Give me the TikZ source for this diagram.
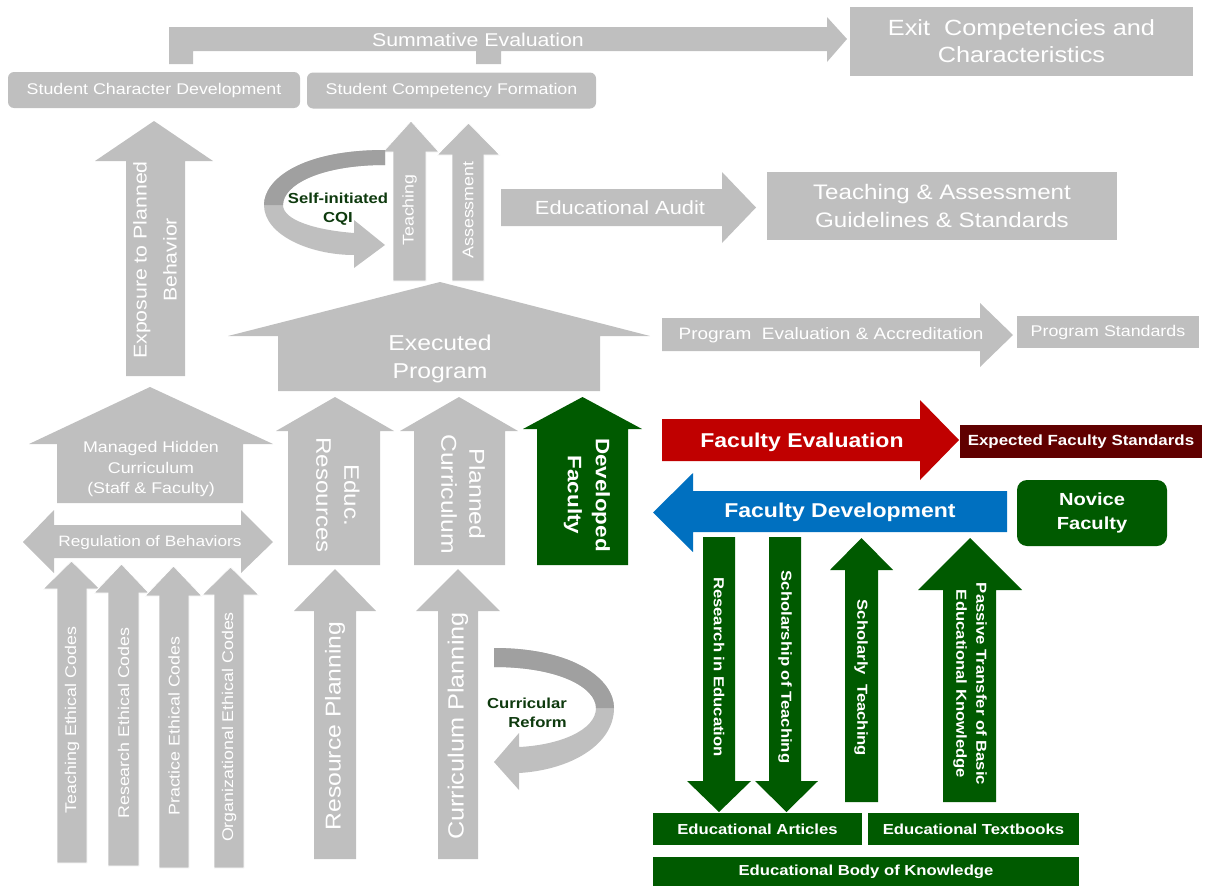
\documentclass[tikz,border=0pt]{standalone}
\usepackage{fontspec}
\setmainfont{Liberation Sans}[FakeStretch=1.15]
\definecolor{pgray}{HTML}{BFBFBF}
\definecolor{pdark}{HTML}{A0A0A0}
\definecolor{fred}{HTML}{C00000}
\definecolor{fmaroon}{HTML}{600000}
\definecolor{fblue}{HTML}{0070C0}
\definecolor{fgreen}{HTML}{005A00}
\definecolor{loopgreen}{HTML}{0E3A0E}
% font size with baseline skip
\newcommand{\fsz}[2]{\fontsize{#1}{#2}\selectfont}
% vertical block arrow: style, shaft left, shaft right, head left, head right, tip y, head base y, tail y
\newcommand{\vArrow}[8]{\filldraw[#1] (#2,#8) -- (#2,#7) -- (#4,#7) -- ({(#4+#5)/2},#6) -- (#5,#7) -- (#3,#7) -- (#3,#8) -- cycle;}
% horizontal block arrow: style, shaft top, shaft bottom, head top, head bottom, tip x, head base x, tail x
\newcommand{\hArrow}[8]{\filldraw[#1] (#8,#2) -- (#7,#2) -- (#7,#4) -- (#6,{(#4+#5)/2}) -- (#7,#5) -- (#7,#3) -- (#8,#3) -- cycle;}
\begin{document}
\begin{tikzpicture}[x=1pt,y=-1pt,
  garrow/.style={fill=pgray,draw=none},
  garrowlined/.style={fill=pgray,draw=white,line width=0.8pt},
  greenarrow/.style={fill=fgreen,draw=none},
  wt/.style={text=white,align=center,inner sep=0pt},
  wtb/.style={wt,font=\bfseries\fsz{14.5}{18}},
  box/.style={fill=pgray,text=white,align=center,inner sep=0pt},
  gbox/.style={fill=fgreen,text=white,align=center,inner sep=0pt,font=\bfseries\fsz{14.5}{18}},
  looptext/.style={text=loopgreen,inner sep=0pt,font=\bfseries\fsz{14.5}{19}}]
\useasboundingbox (0,0) rectangle (1205,886);

% ---------- top: summative evaluation and outcomes ----------
\fill[pgray] (169,64) -- (169,27) -- (827,27) -- (827,17) -- (847,39) -- (827,62) -- (827,51)
  -- (501,51) -- (501,64) -- (476,64) -- (476,51) -- (193,51) -- (193,64) -- cycle;
\node[wt,font=\fsz{18.5}{22}] (summ) at (478,40) {Summative Evaluation};
\node[box,minimum width=343,minimum height=69,font=\fsz{22}{27}] (exit) at (1021.5,41.5)
  {Exit\ \ Competencies and\\Characteristics};
\node[box,rounded corners=6,minimum width=292,minimum height=36,font=\fsz{15.5}{18}] (scd) at (154,90)
  {Student Character Development};
\node[box,rounded corners=6,minimum width=289,minimum height=36,font=\fsz{15.5}{18}] (scf) at (451.5,90.5)
  {Student Competency Formation};

% ---------- exposure to planned behavior ----------
\vArrow{garrow}{126}{185}{95}{213}{121}{161}{376}
\node[wt,rotate=90,font=\fsz{18.5}{30}] (expo) at (155,260) {Exposure to Planned\\Behavior};

% ---------- teaching / assessment and the CQI loop ----------
\vArrow{garrowlined}{393}{426}{383}{439}{121}{152}{281}
\vArrow{garrowlined}{452}{484}{437}{500}{123}{155}{281}
\node[wt,rotate=90,font=\fsz{15.5}{18}] (teach) at (409.5,210) {Teaching};
\node[wt,rotate=90,font=\fsz{15.5}{18}] (assess) at (468,210) {Assessment};

\fill[pgray] (385,150) .. controls (300,150) and (264,180) .. (264,205)
  .. controls (264,235) and (310,255) .. (354,255)
  -- (354,268) -- (385,245) -- (354,220) -- (354,233)
  .. controls (315,230) and (283,220) .. (283,205)
  .. controls (283,185) and (320,165) .. (385,165) -- cycle;
\fill[pdark] (385,150) .. controls (300,150) and (264,180) .. (264,205)
  -- (283,205) .. controls (283,185) and (320,165) .. (385,165) -- cycle;
\node[looptext,align=center] (cqi) at (338,209) {Self-initiated\\CQI};

\hArrow{garrow}{189}{226}{172}{243}{756}{722}{501}
\node[wt,font=\fsz{19}{22}] (audit) at (620,208) {Educational Audit};
\node[box,minimum width=350,minimum height=68,font=\fsz{21}{28}] (guide) at (942,206)
  {Teaching \& Assessment\\Guidelines \& Standards};

% ---------- executed program ----------
\fill[pgray] (228,336) -- (440,282) -- (650,336) -- (600,336) -- (600,391) -- (278,391) -- (278,336) -- cycle;
\node[wt,font=\fsz{21.5}{28}] (exec) at (440,359) {Executed\\Program};

\hArrow{garrow}{318}{351}{303}{367}{1013}{980}{662}
\node[wt,font=\fsz{16.5}{20}] (progeval) at (831,335) {Program\ \ Evaluation \& Accreditation};
\node[box,minimum width=182,minimum height=32,font=\fsz{15.5}{18}] (progstd) at (1108,332) {Program Standards};

% ---------- faculty evaluation / development ----------
\hArrow{fill=fred,draw=none}{419}{461}{400}{480}{959}{920}{662}
\node[wt,font=\bfseries\fsz{20}{24}] (faceval) at (802,442) {Faculty Evaluation};
\node[box,fill=fmaroon,minimum width=242,minimum height=33,font=\bfseries\fsz{14.7}{18}] (expstd) at (1081,441.5)
  {Expected Faculty Standards};

\hArrow{fill=fblue,draw=none}{491}{532}{473}{552}{653}{693}{1007}
\node[wt,font=\bfseries\fsz{20}{24}] (facdev) at (840,512) {Faculty Development};
\node[box,fill=fgreen,rounded corners=10,minimum width=150,minimum height=66,font=\bfseries\fsz{17.5}{24}] (novice)
  at (1092,513) {Novice\\Faculty};

% ---------- inputs to the executed program ----------
\vArrow{garrow}{288}{380}{276}{394}{397}{431}{565}
\node[wt,rotate=-90,font=\fsz{21}{28}] (educres) at (338,495) {Educ.\\Resources};
\vArrow{garrow}{414}{505}{400}{518}{397}{431}{565}
\node[wt,rotate=-90,font=\fsz{21.5}{28}] (plancur) at (463,494) {Planned\\Curriculum};
\vArrow{greenarrow}{537}{628}{523}{642}{397}{429}{565}
\node[wt,rotate=-90,font=\bfseries\fsz{19.5}{28}] (devfac) at (587,495) {Developed\\Faculty};

% ---------- managed hidden curriculum ----------
\fill[pgray] (29,444) -- (150,387) -- (273,444) -- (243,444) -- (243,503) -- (57,503) -- (57,444) -- cycle;
\node[wt,font=\fsz{15.5}{20.5}] (hidden) at (151,469) {Managed Hidden\\Curriculum\\(Staff \& Faculty)};
\fill[pgray] (23,542) -- (54,510) -- (54,525) -- (241,525) -- (241,510) -- (273,542) -- (241,573)
  -- (241,558) -- (54,558) -- (54,573) -- cycle;
\node[wt,font=\fsz{15}{18}] (regul) at (150,543) {Regulation of Behaviors};

% ---------- ethical codes ----------
\vArrow{garrowlined}{57}{87}{43}{100}{561}{589}{863}
\vArrow{garrowlined}{108}{139}{94}{149}{564}{593}{866}
\vArrow{garrowlined}{159}{189}{145}{202}{566}{596}{868}
\vArrow{garrowlined}{214}{244}{202}{259}{567}{595}{868}
\node[wt,rotate=90,font=\fsz{15.5}{18}] (tcodes) at (72,720) {Teaching Ethical Codes};
\node[wt,rotate=90,font=\fsz{15.5}{18}] (rcodes) at (123.5,723) {Research Ethical Codes};
\node[wt,rotate=90,font=\fsz{15.5}{18}] (pcodes) at (174,726) {Practice Ethical Codes};
\node[wt,rotate=90,font=\fsz{15.5}{18}] (ocodes) at (229,727) {Organizational Ethical Codes};

% ---------- planning ----------
\vArrow{garrow}{314}{356}{294}{376}{569}{611}{859}
\node[wt,rotate=90,font=\fsz{21.5}{25}] (resplan) at (335,726) {Resource Planning};
\vArrow{garrow}{438}{478}{416}{500}{569}{611}{859}
\node[wt,rotate=90,font=\fsz{22}{25}] (curplan) at (458,726) {Curriculum Planning};

\fill[pgray] (494,648) .. controls (575,648) and (614,680) .. (614,708)
  .. controls (614,745) and (570,770) .. (519,773)
  -- (519,790) -- (494,762) -- (519,733) -- (519,747)
  .. controls (560,745) and (596,730) .. (596,708)
  .. controls (596,688) and (560,667) .. (494,667) -- cycle;
\fill[pdark] (494,648) .. controls (575,648) and (614,680) .. (614,708)
  -- (596,708) .. controls (596,688) and (560,667) .. (494,667) -- cycle;
\node[looptext,align=right,anchor=east] (reform) at (567,713) {Curricular\\Reform};

% ---------- scholarship of education ----------
\vArrow{greenarrow}{703}{735}{687}{751}{812}{781}{537}
\node[wtb,rotate=-90] (resedu) at (719,667) {Research in Education};
\vArrow{greenarrow}{769}{801}{755}{818}{812}{781}{537}
\node[wtb,rotate=-90] (scholt) at (785,667) {Scholarship of Teaching};
\vArrow{greenarrow}{845}{878}{830}{893}{538}{570}{802}
\node[wtb,rotate=-90] (scholy) at (861,678) {Scholarly\ \ Teaching};
\vArrow{greenarrow}{943}{996}{918}{1022}{538}{590}{802}
\node[wtb,rotate=-90,font=\bfseries\fsz{14.5}{20}] (passive) at (970,684)
  {Passive Transfer of Basic\\Educational Knowledge};

\node[gbox,minimum width=209,minimum height=32] (articles) at (757.5,829) {Educational Articles};
\node[gbox,minimum width=211,minimum height=32] (textbooks) at (973.5,829) {Educational Textbooks};
\node[gbox,minimum width=426,minimum height=29] (body) at (866,871.5) {Educational Body of Knowledge};
\end{tikzpicture}
\end{document}
